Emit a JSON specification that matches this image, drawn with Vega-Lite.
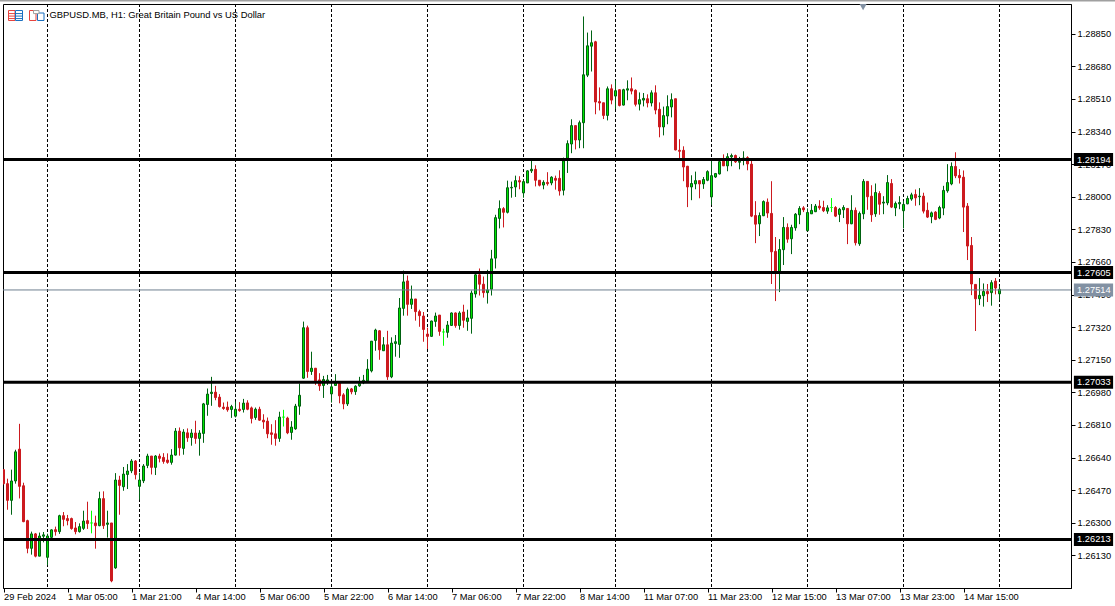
{"$schema":"https://vega.github.io/schema/vega-lite/v6.json","width":1068,"height":584,"autosize":"none","padding":{"left":3,"top":4,"right":44,"bottom":18},"background":"#ffffff","config":{"view":{"stroke":"#000000","strokeWidth":1},"font":"Liberation Sans"},
"datasets":{"days":[{"bar":11},{"bar":34},{"bar":58},{"bar":82},{"bar":106},{"bar":130},{"bar":153},{"bar":177},{"bar":201},{"bar":225},{"bar":249}],
"levels":[{"price":1.28194},{"price":1.27605},{"price":1.27033},{"price":1.26213}],
"last":[{"price":1.27514}],
"iconrows":[{"price":1.28955},{"price":1.28942},{"price":1.28929}],
"candles":[
{"bar":0,"open":1.26577,"high":1.26580,"low":1.26500,"close":1.26504},
{"bar":1,"open":1.26504,"high":1.26530,"low":1.26368,"close":1.26417},
{"bar":2,"open":1.26417,"high":1.26577,"low":1.26342,"close":1.26518},
{"bar":3,"open":1.26518,"high":1.26681,"low":1.26504,"close":1.26670},
{"bar":4,"open":1.26684,"high":1.26816,"low":1.26427,"close":1.26490},
{"bar":5,"open":1.26493,"high":1.26509,"low":1.26303,"close":1.26306},
{"bar":6,"open":1.26311,"high":1.26316,"low":1.26141,"close":1.26167},
{"bar":7,"open":1.26167,"high":1.26254,"low":1.26134,"close":1.26242},
{"bar":8,"open":1.26242,"high":1.26247,"low":1.26120,"close":1.26126},
{"bar":9,"open":1.26126,"high":1.26249,"low":1.26126,"close":1.26231},
{"bar":10,"open":1.26230,"high":1.26252,"low":1.26198,"close":1.26237},
{"bar":11,"open":1.26120,"high":1.26243,"low":1.26079,"close":1.26231},
{"bar":12,"open":1.26224,"high":1.26266,"low":1.26218,"close":1.26263},
{"bar":13,"open":1.26264,"high":1.26280,"low":1.26233,"close":1.26254},
{"bar":14,"open":1.26254,"high":1.26342,"low":1.26242,"close":1.26337},
{"bar":15,"open":1.26337,"high":1.26356,"low":1.26282,"close":1.26318},
{"bar":16,"open":1.26322,"high":1.26341,"low":1.26287,"close":1.26311},
{"bar":17,"open":1.26322,"high":1.26327,"low":1.26264,"close":1.26270},
{"bar":18,"open":1.26273,"high":1.26304,"low":1.26240,"close":1.26254},
{"bar":19,"open":1.26254,"high":1.26297,"low":1.26249,"close":1.26280},
{"bar":20,"open":1.26271,"high":1.26363,"low":1.26263,"close":1.26309},
{"bar":21,"open":1.26311,"high":1.26410,"low":1.26268,"close":1.26296},
{"bar":22,"open":1.26299,"high":1.26363,"low":1.26245,"close":1.26299},
{"bar":23,"open":1.26299,"high":1.26337,"low":1.26165,"close":1.26285},
{"bar":24,"open":1.26285,"high":1.26462,"low":1.26282,"close":1.26426},
{"bar":25,"open":1.26426,"high":1.26464,"low":1.26268,"close":1.26285},
{"bar":26,"open":1.26292,"high":1.26363,"low":1.26223,"close":1.26299},
{"bar":27,"open":1.26299,"high":1.26299,"low":1.25990,"close":1.25997},
{"bar":28,"open":1.26065,"high":1.26559,"low":1.26060,"close":1.26523},
{"bar":29,"open":1.26523,"high":1.26545,"low":1.26342,"close":1.26495},
{"bar":30,"open":1.26488,"high":1.26591,"low":1.26467,"close":1.26554},
{"bar":31,"open":1.26552,"high":1.26606,"low":1.26476,"close":1.26570},
{"bar":32,"open":1.26571,"high":1.26632,"low":1.26559,"close":1.26622},
{"bar":33,"open":1.26622,"high":1.26627,"low":1.26526,"close":1.26551},
{"bar":34,"open":1.26490,"high":1.26561,"low":1.26420,"close":1.26523},
{"bar":35,"open":1.26519,"high":1.26606,"low":1.26507,"close":1.26596},
{"bar":36,"open":1.26599,"high":1.26660,"low":1.26585,"close":1.26648},
{"bar":37,"open":1.26648,"high":1.26648,"low":1.26552,"close":1.26589},
{"bar":38,"open":1.26589,"high":1.26653,"low":1.26549,"close":1.26648},
{"bar":39,"open":1.26648,"high":1.26660,"low":1.26615,"close":1.26636},
{"bar":40,"open":1.26641,"high":1.26663,"low":1.26608,"close":1.26620},
{"bar":41,"open":1.26627,"high":1.26662,"low":1.26608,"close":1.26615},
{"bar":42,"open":1.26615,"high":1.26684,"low":1.26603,"close":1.26653},
{"bar":43,"open":1.26653,"high":1.26794,"low":1.26651,"close":1.26778},
{"bar":44,"open":1.26778,"high":1.26797,"low":1.26650,"close":1.26691},
{"bar":45,"open":1.26688,"high":1.26788,"low":1.26655,"close":1.26773},
{"bar":46,"open":1.26769,"high":1.26792,"low":1.26722,"close":1.26743},
{"bar":47,"open":1.26745,"high":1.26788,"low":1.26702,"close":1.26768},
{"bar":48,"open":1.26768,"high":1.26832,"low":1.26712,"close":1.26740},
{"bar":49,"open":1.26740,"high":1.26783,"low":1.26650,"close":1.26768},
{"bar":50,"open":1.26766,"high":1.26925,"low":1.26717,"close":1.26920},
{"bar":51,"open":1.26917,"high":1.27000,"low":1.26858,"close":1.26971},
{"bar":52,"open":1.26974,"high":1.27061,"low":1.26910,"close":1.26981},
{"bar":53,"open":1.26981,"high":1.27014,"low":1.26939,"close":1.26953},
{"bar":54,"open":1.26955,"high":1.26971,"low":1.26901,"close":1.26906},
{"bar":55,"open":1.26903,"high":1.26927,"low":1.26889,"close":1.26896},
{"bar":56,"open":1.26903,"high":1.26932,"low":1.26879,"close":1.26889},
{"bar":57,"open":1.26891,"high":1.26915,"low":1.26847,"close":1.26906},
{"bar":58,"open":1.26856,"high":1.26932,"low":1.26849,"close":1.26892},
{"bar":59,"open":1.26892,"high":1.26929,"low":1.26879,"close":1.26885},
{"bar":60,"open":1.26891,"high":1.26946,"low":1.26875,"close":1.26924},
{"bar":61,"open":1.26925,"high":1.26939,"low":1.26887,"close":1.26892},
{"bar":62,"open":1.26899,"high":1.26906,"low":1.26818,"close":1.26844},
{"bar":63,"open":1.26849,"high":1.26901,"low":1.26837,"close":1.26892},
{"bar":64,"open":1.26892,"high":1.26905,"low":1.26832,"close":1.26835},
{"bar":65,"open":1.26835,"high":1.26866,"low":1.26790,"close":1.26826},
{"bar":66,"open":1.26830,"high":1.26849,"low":1.26741,"close":1.26764},
{"bar":67,"open":1.26769,"high":1.26814,"low":1.26707,"close":1.26761},
{"bar":68,"open":1.26764,"high":1.26835,"low":1.26702,"close":1.26740},
{"bar":69,"open":1.26740,"high":1.26879,"low":1.26722,"close":1.26851},
{"bar":70,"open":1.26851,"high":1.26889,"low":1.26802,"close":1.26851},
{"bar":71,"open":1.26846,"high":1.26853,"low":1.26762,"close":1.26769},
{"bar":72,"open":1.26771,"high":1.26830,"low":1.26733,"close":1.26799},
{"bar":73,"open":1.26790,"high":1.26920,"low":1.26785,"close":1.26908},
{"bar":74,"open":1.26908,"high":1.27026,"low":1.26863,"close":1.26965},
{"bar":75,"open":1.27054,"high":1.27349,"low":1.27051,"close":1.27317},
{"bar":76,"open":1.27317,"high":1.27328,"low":1.27056,"close":1.27089},
{"bar":77,"open":1.27089,"high":1.27192,"low":1.27071,"close":1.27106},
{"bar":78,"open":1.27106,"high":1.27106,"low":1.27019,"close":1.27040},
{"bar":79,"open":1.27045,"high":1.27080,"low":1.26988,"close":1.27014},
{"bar":80,"open":1.27016,"high":1.27066,"low":1.26951,"close":1.27047},
{"bar":81,"open":1.27033,"high":1.27071,"low":1.27019,"close":1.27045},
{"bar":82,"open":1.26972,"high":1.27040,"low":1.26927,"close":1.27009},
{"bar":83,"open":1.27016,"high":1.27075,"low":1.27014,"close":1.27028},
{"bar":84,"open":1.27028,"high":1.27028,"low":1.26923,"close":1.26962},
{"bar":85,"open":1.26967,"high":1.26976,"low":1.26892,"close":1.26920},
{"bar":86,"open":1.26920,"high":1.27005,"low":1.26909,"close":1.26996},
{"bar":87,"open":1.26998,"high":1.27003,"low":1.26970,"close":1.26983},
{"bar":88,"open":1.26984,"high":1.27017,"low":1.26967,"close":1.27012},
{"bar":89,"open":1.27014,"high":1.27061,"low":1.27009,"close":1.27026},
{"bar":90,"open":1.27030,"high":1.27071,"low":1.27023,"close":1.27043},
{"bar":91,"open":1.27040,"high":1.27153,"low":1.27037,"close":1.27101},
{"bar":92,"open":1.27092,"high":1.27247,"low":1.27084,"close":1.27247},
{"bar":93,"open":1.27251,"high":1.27312,"low":1.27197,"close":1.27305},
{"bar":94,"open":1.27301,"high":1.27305,"low":1.27150,"close":1.27202},
{"bar":95,"open":1.27197,"high":1.27268,"low":1.27197,"close":1.27228},
{"bar":96,"open":1.27228,"high":1.27301,"low":1.27045,"close":1.27061},
{"bar":97,"open":1.27061,"high":1.27267,"low":1.27054,"close":1.27237},
{"bar":98,"open":1.27235,"high":1.27279,"low":1.27166,"close":1.27244},
{"bar":99,"open":1.27230,"high":1.27472,"low":1.27160,"close":1.27420},
{"bar":100,"open":1.27418,"high":1.27615,"low":1.27380,"close":1.27556},
{"bar":101,"open":1.27561,"high":1.27589,"low":1.27380,"close":1.27439},
{"bar":102,"open":1.27439,"high":1.27537,"low":1.27415,"close":1.27467},
{"bar":103,"open":1.27467,"high":1.27467,"low":1.27354,"close":1.27401},
{"bar":104,"open":1.27401,"high":1.27411,"low":1.27322,"close":1.27380},
{"bar":105,"open":1.27378,"high":1.27399,"low":1.27244,"close":1.27308},
{"bar":106,"open":1.27284,"high":1.27317,"low":1.27206,"close":1.27272},
{"bar":107,"open":1.27272,"high":1.27354,"low":1.27270,"close":1.27352},
{"bar":108,"open":1.27350,"high":1.27396,"low":1.27322,"close":1.27378},
{"bar":109,"open":1.27383,"high":1.27383,"low":1.27275,"close":1.27298},
{"bar":110,"open":1.27295,"high":1.27312,"low":1.27223,"close":1.27295},
{"bar":111,"open":1.27293,"high":1.27352,"low":1.27265,"close":1.27331},
{"bar":112,"open":1.27329,"high":1.27397,"low":1.27326,"close":1.27394},
{"bar":113,"open":1.27394,"high":1.27397,"low":1.27317,"close":1.27328},
{"bar":114,"open":1.27329,"high":1.27403,"low":1.27307,"close":1.27394},
{"bar":115,"open":1.27399,"high":1.27437,"low":1.27317,"close":1.27356},
{"bar":116,"open":1.27350,"high":1.27411,"low":1.27301,"close":1.27368},
{"bar":117,"open":1.27366,"high":1.27511,"low":1.27286,"close":1.27498},
{"bar":118,"open":1.27493,"high":1.27605,"low":1.27474,"close":1.27593},
{"bar":119,"open":1.27593,"high":1.27626,"low":1.27485,"close":1.27544},
{"bar":120,"open":1.27544,"high":1.27584,"low":1.27474,"close":1.27500},
{"bar":121,"open":1.27500,"high":1.27619,"low":1.27443,"close":1.27514},
{"bar":122,"open":1.27518,"high":1.27723,"low":1.27485,"close":1.27676},
{"bar":123,"open":1.27680,"high":1.27906,"low":1.27626,"close":1.27891},
{"bar":124,"open":1.27887,"high":1.27981,"low":1.27835,"close":1.27938},
{"bar":125,"open":1.27938,"high":1.27946,"low":1.27840,"close":1.27919},
{"bar":126,"open":1.27919,"high":1.28084,"low":1.27913,"close":1.28047},
{"bar":127,"open":1.28046,"high":1.28079,"low":1.27995,"close":1.28049},
{"bar":128,"open":1.28051,"high":1.28110,"low":1.27999,"close":1.28084},
{"bar":129,"open":1.28084,"high":1.28107,"low":1.28039,"close":1.28077},
{"bar":130,"open":1.28020,"high":1.28091,"low":1.27995,"close":1.28079},
{"bar":131,"open":1.28072,"high":1.28138,"low":1.28072,"close":1.28135},
{"bar":132,"open":1.28135,"high":1.28187,"low":1.28124,"close":1.28143},
{"bar":133,"open":1.28143,"high":1.28164,"low":1.28054,"close":1.28086},
{"bar":134,"open":1.28086,"high":1.28086,"low":1.28054,"close":1.28060},
{"bar":135,"open":1.28061,"high":1.28086,"low":1.28039,"close":1.28075},
{"bar":136,"open":1.28075,"high":1.28128,"low":1.28058,"close":1.28068},
{"bar":137,"open":1.28072,"high":1.28107,"low":1.28060,"close":1.28102},
{"bar":138,"open":1.28096,"high":1.28110,"low":1.28037,"close":1.28086},
{"bar":139,"open":1.28096,"high":1.28138,"low":1.28006,"close":1.28030},
{"bar":140,"open":1.28034,"high":1.28204,"low":1.28007,"close":1.28187},
{"bar":141,"open":1.28201,"high":1.28294,"low":1.28124,"close":1.28277},
{"bar":142,"open":1.28275,"high":1.28404,"low":1.28227,"close":1.28371},
{"bar":143,"open":1.28371,"high":1.28371,"low":1.28247,"close":1.28296},
{"bar":144,"open":1.28296,"high":1.28397,"low":1.28253,"close":1.28386},
{"bar":145,"open":1.28386,"high":1.28940,"low":1.28253,"close":1.28636},
{"bar":146,"open":1.28634,"high":1.28856,"low":1.28624,"close":1.28787},
{"bar":147,"open":1.28785,"high":1.28867,"low":1.28653,"close":1.28803},
{"bar":148,"open":1.28808,"high":1.28813,"low":1.28430,"close":1.28494},
{"bar":149,"open":1.28496,"high":1.28570,"low":1.28450,"close":1.28489},
{"bar":150,"open":1.28490,"high":1.28490,"low":1.28405,"close":1.28424},
{"bar":151,"open":1.28424,"high":1.28575,"low":1.28398,"close":1.28563},
{"bar":152,"open":1.28563,"high":1.28586,"low":1.28482,"close":1.28504},
{"bar":153,"open":1.28525,"high":1.28607,"low":1.28457,"close":1.28553},
{"bar":154,"open":1.28558,"high":1.28560,"low":1.28471,"close":1.28476},
{"bar":155,"open":1.28478,"high":1.28563,"low":1.28476,"close":1.28558},
{"bar":156,"open":1.28556,"high":1.28607,"low":1.28503,"close":1.28563},
{"bar":157,"open":1.28563,"high":1.28622,"low":1.28534,"close":1.28551},
{"bar":158,"open":1.28555,"high":1.28560,"low":1.28471,"close":1.28482},
{"bar":159,"open":1.28483,"high":1.28544,"low":1.28450,"close":1.28506},
{"bar":160,"open":1.28504,"high":1.28541,"low":1.28471,"close":1.28513},
{"bar":161,"open":1.28511,"high":1.28534,"low":1.28466,"close":1.28489},
{"bar":162,"open":1.28489,"high":1.28555,"low":1.28471,"close":1.28542},
{"bar":163,"open":1.28542,"high":1.28581,"low":1.28430,"close":1.28452},
{"bar":164,"open":1.28456,"high":1.28492,"low":1.28310,"close":1.28364},
{"bar":165,"open":1.28364,"high":1.28470,"low":1.28320,"close":1.28423},
{"bar":166,"open":1.28421,"high":1.28529,"low":1.28378,"close":1.28470},
{"bar":167,"open":1.28468,"high":1.28539,"low":1.28414,"close":1.28506},
{"bar":168,"open":1.28511,"high":1.28511,"low":1.28242,"close":1.28244},
{"bar":169,"open":1.28242,"high":1.28300,"low":1.28194,"close":1.28237},
{"bar":170,"open":1.28242,"high":1.28263,"low":1.28081,"close":1.28155},
{"bar":171,"open":1.28159,"high":1.28161,"low":1.27946,"close":1.28051},
{"bar":172,"open":1.28051,"high":1.28112,"low":1.27982,"close":1.28069},
{"bar":173,"open":1.28067,"high":1.28131,"low":1.28039,"close":1.28084},
{"bar":174,"open":1.28084,"high":1.28084,"low":1.27992,"close":1.28067},
{"bar":175,"open":1.28067,"high":1.28103,"low":1.28041,"close":1.28090},
{"bar":176,"open":1.28086,"high":1.28138,"low":1.28081,"close":1.28131},
{"bar":177,"open":1.27999,"high":1.28194,"low":1.27958,"close":1.28110},
{"bar":178,"open":1.28103,"high":1.28124,"low":1.28098,"close":1.28121},
{"bar":179,"open":1.28119,"high":1.28194,"low":1.28116,"close":1.28183},
{"bar":180,"open":1.28194,"high":1.28221,"low":1.28161,"close":1.28161},
{"bar":181,"open":1.28161,"high":1.28227,"low":1.28133,"close":1.28209},
{"bar":182,"open":1.28208,"high":1.28225,"low":1.28159,"close":1.28215},
{"bar":183,"open":1.28215,"high":1.28220,"low":1.28176,"close":1.28182},
{"bar":184,"open":1.28180,"high":1.28208,"low":1.28143,"close":1.28185},
{"bar":185,"open":1.28194,"high":1.28237,"low":1.28164,"close":1.28202},
{"bar":186,"open":1.28204,"high":1.28211,"low":1.28138,"close":1.28171},
{"bar":187,"open":1.28170,"high":1.28187,"low":1.27894,"close":1.27899},
{"bar":188,"open":1.27902,"high":1.27977,"low":1.27758,"close":1.27857},
{"bar":189,"open":1.27859,"high":1.27918,"low":1.27795,"close":1.27902},
{"bar":190,"open":1.27901,"high":1.27981,"low":1.27899,"close":1.27975},
{"bar":191,"open":1.27972,"high":1.27991,"low":1.27890,"close":1.27915},
{"bar":192,"open":1.27913,"high":1.28081,"low":1.27545,"close":1.27713},
{"bar":193,"open":1.27715,"high":1.27790,"low":1.27456,"close":1.27605},
{"bar":194,"open":1.27605,"high":1.27779,"low":1.27503,"close":1.27725},
{"bar":195,"open":1.27724,"high":1.27894,"low":1.27644,"close":1.27840},
{"bar":196,"open":1.27840,"high":1.27861,"low":1.27760,"close":1.27779},
{"bar":197,"open":1.27781,"high":1.27854,"low":1.27701,"close":1.27840},
{"bar":198,"open":1.27838,"high":1.27915,"low":1.27823,"close":1.27909},
{"bar":199,"open":1.27906,"high":1.27951,"low":1.27857,"close":1.27939},
{"bar":200,"open":1.27942,"high":1.27951,"low":1.27920,"close":1.27932},
{"bar":201,"open":1.27823,"high":1.27939,"low":1.27823,"close":1.27918},
{"bar":202,"open":1.27911,"high":1.27962,"low":1.27911,"close":1.27929},
{"bar":203,"open":1.27922,"high":1.27962,"low":1.27920,"close":1.27951},
{"bar":204,"open":1.27951,"high":1.27982,"low":1.27932,"close":1.27942},
{"bar":205,"open":1.27944,"high":1.27979,"low":1.27920,"close":1.27927},
{"bar":206,"open":1.27925,"high":1.27956,"low":1.27911,"close":1.27942},
{"bar":207,"open":1.27944,"high":1.27993,"low":1.27920,"close":1.27944},
{"bar":208,"open":1.27944,"high":1.27951,"low":1.27894,"close":1.27899},
{"bar":209,"open":1.27908,"high":1.27942,"low":1.27868,"close":1.27935},
{"bar":210,"open":1.27932,"high":1.27956,"low":1.27889,"close":1.27944},
{"bar":211,"open":1.27939,"high":1.27941,"low":1.27753,"close":1.27859},
{"bar":212,"open":1.27859,"high":1.28008,"low":1.27857,"close":1.27929},
{"bar":213,"open":1.27929,"high":1.27944,"low":1.27746,"close":1.27760},
{"bar":214,"open":1.27755,"high":1.27923,"low":1.27744,"close":1.27913},
{"bar":215,"open":1.27911,"high":1.28092,"low":1.27883,"close":1.28080},
{"bar":216,"open":1.28080,"high":1.28080,"low":1.27932,"close":1.28000},
{"bar":217,"open":1.28003,"high":1.28060,"low":1.27869,"close":1.27906},
{"bar":218,"open":1.27911,"high":1.28069,"low":1.27895,"close":1.28022},
{"bar":219,"open":1.28017,"high":1.28029,"low":1.27906,"close":1.27961},
{"bar":220,"open":1.27967,"high":1.28003,"low":1.27909,"close":1.27972},
{"bar":221,"open":1.27968,"high":1.28113,"low":1.27956,"close":1.28074},
{"bar":222,"open":1.28069,"high":1.28092,"low":1.27941,"close":1.27946},
{"bar":223,"open":1.27942,"high":1.27975,"low":1.27899,"close":1.27965},
{"bar":224,"open":1.27963,"high":1.28003,"low":1.27935,"close":1.27970},
{"bar":225,"open":1.27927,"high":1.27979,"low":1.27835,"close":1.27960},
{"bar":226,"open":1.27963,"high":1.28005,"low":1.27961,"close":1.27991},
{"bar":227,"open":1.27988,"high":1.28021,"low":1.27979,"close":1.28010},
{"bar":228,"open":1.28012,"high":1.28038,"low":1.27953,"close":1.27994},
{"bar":229,"open":1.28000,"high":1.28045,"low":1.27956,"close":1.28003},
{"bar":230,"open":1.28003,"high":1.28021,"low":1.27913,"close":1.27925},
{"bar":231,"open":1.27929,"high":1.27970,"low":1.27889,"close":1.27894},
{"bar":232,"open":1.27896,"high":1.27923,"low":1.27862,"close":1.27916},
{"bar":233,"open":1.27920,"high":1.27925,"low":1.27878,"close":1.27882},
{"bar":234,"open":1.27889,"high":1.27953,"low":1.27883,"close":1.27944},
{"bar":235,"open":1.27941,"high":1.28057,"low":1.27904,"close":1.28033},
{"bar":236,"open":1.28031,"high":1.28170,"low":1.28021,"close":1.28074},
{"bar":237,"open":1.28067,"high":1.28179,"low":1.28060,"close":1.28158},
{"bar":238,"open":1.28158,"high":1.28232,"low":1.28097,"close":1.28109},
{"bar":239,"open":1.28111,"high":1.28144,"low":1.28069,"close":1.28099},
{"bar":240,"open":1.28102,"high":1.28137,"low":1.27816,"close":1.27946},
{"bar":241,"open":1.27951,"high":1.27967,"low":1.27670,"close":1.27743},
{"bar":242,"open":1.27746,"high":1.27790,"low":1.27487,"close":1.27545},
{"bar":243,"open":1.27543,"high":1.27543,"low":1.27300,"close":1.27468},
{"bar":244,"open":1.27468,"high":1.27576,"low":1.27435,"close":1.27486},
{"bar":245,"open":1.27484,"high":1.27548,"low":1.27427,"close":1.27506},
{"bar":246,"open":1.27506,"high":1.27545,"low":1.27451,"close":1.27494},
{"bar":247,"open":1.27500,"high":1.27565,"low":1.27432,"close":1.27552},
{"bar":248,"open":1.27560,"high":1.27576,"low":1.27491,"close":1.27524},
{"bar":249,"open":1.27494,"high":1.27534,"low":1.27461,"close":1.27517}
]},
"resolve":{"scale":{"x":"shared","y":"shared"}},
"layer":[
{"data":{"name":"days"},"mark":{"type":"rule","color":"#000000","strokeWidth":1,"strokeDash":[3,2]},"encoding":{"x":{"field":"bar","type":"quantitative","title":null,"scale":{"domain":[-0.125,266.875],"nice":false,"zero":false,"padding":0},"axis":{"values":[0,16,32,48,64,80,96,112,128,144,160,176,192,208,224,240],"labelExpr":"['29 Feb 2024','1 Mar 05:00','1 Mar 21:00','4 Mar 14:00','5 Mar 06:00','5 Mar 22:00','6 Mar 14:00','7 Mar 06:00','7 Mar 22:00','8 Mar 14:00','11 Mar 07:00','11 Mar 23:00','12 Mar 15:00','13 Mar 07:00','13 Mar 23:00','14 Mar 15:00'][datum.value/16]","title":null,"grid":false,"orient":"bottom","domainColor":"#000000","tickColor":"#000000","tickSize":4,"tickCount":30,"labelColor":"#000000","labelFont":"Liberation Sans","labelFontSize":9.3,"labelAlign":"left","labelBaseline":"top","labelPadding":0,"labelOverlap":false,"labelFlush":false}}}},
{"data":{"name":"candles"},"mark":{"type":"rule","strokeWidth":1,"clip":true},"encoding":{"x":{"field":"bar","type":"quantitative","title":null,"scale":{"domain":[-0.125,266.875],"nice":false,"zero":false,"padding":0}},"y":{"field":"low","type":"quantitative","title":null,"scale":{"domain":[1.2596,1.29005],"nice":false,"zero":false},"axis":{"orient":"right","title":null,"grid":false,"values":[1.2885,1.2868,1.2851,1.2834,1.2817,1.28,1.2783,1.2766,1.2749,1.2732,1.2715,1.2698,1.2681,1.2664,1.2647,1.263,1.2613],"tickCount":30,"format":".5f","domainColor":"#000000","tickColor":"#000000","tickSize":4,"labelColor":"#000000","labelFont":"Liberation Sans","labelFontSize":9.3,"labelPadding":2,"labelOverlap":false,"labelFlush":false}},"y2":{"field":"high"},"stroke":{"condition":[{"test":"datum.close==datum.open","value":"#00ff00"},{"test":"datum.close>datum.open","value":"#006414"}],"value":"#cc1a1f"}}},
{"data":{"name":"candles"},"mark":{"type":"bar","size":2,"strokeWidth":1,"clip":true},"encoding":{"x":{"field":"bar","type":"quantitative","title":null,"scale":{"domain":[-0.125,266.875],"nice":false,"zero":false,"padding":0}},"y":{"field":"open","type":"quantitative","title":null,"scale":{"domain":[1.2596,1.29005],"nice":false,"zero":false}},"y2":{"field":"close"},"fill":{"condition":[{"test":"datum.close==datum.open","value":"#00ff00"},{"test":"datum.close>datum.open","value":"#00e600"}],"value":"#cc1a1f"},"stroke":{"condition":[{"test":"datum.close==datum.open","value":"#00ff00"},{"test":"datum.close>datum.open","value":"#00600f"}],"value":"#cc1a1f"}}},
{"data":{"name":"last"},"mark":{"type":"rule","color":"#6f7f90","strokeWidth":1},"encoding":{"y":{"field":"price","type":"quantitative","title":null,"scale":{"domain":[1.2596,1.29005],"nice":false,"zero":false}}}},
{"data":{"name":"levels"},"mark":{"type":"rule","color":"#000000","strokeWidth":3},"encoding":{"y":{"field":"price","type":"quantitative","title":null,"scale":{"domain":[1.2596,1.29005],"nice":false,"zero":false}}}},
{"data":{"name":"levels"},"mark":{"type":"rule","color":"#000000","strokeWidth":13},"encoding":{"x":{"datum":267.6,"title":null,"scale":{"domain":[-0.125,266.875],"nice":false,"zero":false,"padding":0}},"x2":{"datum":277.4},"y":{"field":"price","type":"quantitative","title":null,"scale":{"domain":[1.2596,1.29005],"nice":false,"zero":false}}}},
{"data":{"name":"last"},"mark":{"type":"rule","color":"#8291a3","strokeWidth":13},"encoding":{"x":{"datum":267.6,"title":null,"scale":{"domain":[-0.125,266.875],"nice":false,"zero":false,"padding":0}},"x2":{"datum":277.4},"y":{"field":"price","type":"quantitative","title":null,"scale":{"domain":[1.2596,1.29005],"nice":false,"zero":false}}}},
{"data":{"name":"levels"},"mark":{"type":"text","align":"left","baseline":"middle","color":"#ffffff","font":"Liberation Sans","fontSize":9.3},"encoding":{"x":{"datum":268.4,"title":null,"scale":{"domain":[-0.125,266.875],"nice":false,"zero":false,"padding":0}},"y":{"field":"price","type":"quantitative","title":null,"scale":{"domain":[1.2596,1.29005],"nice":false,"zero":false}},"text":{"field":"price","type":"quantitative","format":".5f"}}},
{"data":{"name":"last"},"mark":{"type":"text","align":"left","baseline":"middle","color":"#ffffff","font":"Liberation Sans","fontSize":9.3},"encoding":{"x":{"datum":268.4,"title":null,"scale":{"domain":[-0.125,266.875],"nice":false,"zero":false,"padding":0}},"y":{"field":"price","type":"quantitative","title":null,"scale":{"domain":[1.2596,1.29005],"nice":false,"zero":false}},"text":{"field":"price","type":"quantitative","format":".5f"}}},
{"data":{"values":[{"name":"GBPUSD.MB, H1:  Great Britain Pound vs US Dollar"}]},"mark":{"type":"text","align":"left","baseline":"middle","color":"#000000","font":"Liberation Sans","fontSize":9.4},"encoding":{"x":{"datum":11.5,"title":null,"scale":{"domain":[-0.125,266.875],"nice":false,"zero":false,"padding":0}},"y":{"datum":1.28946,"title":null,"scale":{"domain":[1.2596,1.29005],"nice":false,"zero":false}},"text":{"field":"name"}}},
{"data":{"values":[{"m":"window"}]},"mark":{"type":"rule","color":"#a0a0a0","strokeWidth":2},"encoding":{"x":{"datum":-1,"title":null,"scale":{"domain":[-0.125,266.875],"nice":false,"zero":false,"padding":0}},"x2":{"datum":279},"y":{"datum":1.29023,"title":null,"scale":{"domain":[1.2596,1.29005],"nice":false,"zero":false}}}},
{"data":{"values":[{"m":"marker"}]},"mark":{"type":"point","shape":"triangle-down","filled":true,"color":"#8291a3","size":50,"opacity":1},"encoding":{"x":{"datum":214.9,"title":null,"scale":{"domain":[-0.125,266.875],"nice":false,"zero":false,"padding":0}},"y":{"datum":1.28989,"title":null,"scale":{"domain":[1.2596,1.29005],"nice":false,"zero":false}}}},
{"data":{"values":[{"m":"icon"}]},"mark":{"type":"rect","fill":"#ffffff","stroke":"#e8423c","strokeWidth":1},"encoding":{"x":{"datum":1.25,"title":null,"scale":{"domain":[-0.125,266.875],"nice":false,"zero":false,"padding":0}},"x2":{"datum":2.875},"y":{"datum":1.28971,"title":null,"scale":{"domain":[1.2596,1.29005],"nice":false,"zero":false}},"y2":{"datum":1.28919}}},
{"data":{"values":[{"m":"icon"}]},"mark":{"type":"rect","fill":"#ffffff","stroke":"#1a70c0","strokeWidth":1},"encoding":{"x":{"datum":3,"title":null,"scale":{"domain":[-0.125,266.875],"nice":false,"zero":false,"padding":0}},"x2":{"datum":4.75},"y":{"datum":1.28971,"title":null,"scale":{"domain":[1.2596,1.29005],"nice":false,"zero":false}},"y2":{"datum":1.28919}}},
{"data":{"name":"iconrows"},"mark":{"type":"rule","color":"#e8423c","strokeWidth":1},"encoding":{"x":{"datum":1.25,"title":null,"scale":{"domain":[-0.125,266.875],"nice":false,"zero":false,"padding":0}},"x2":{"datum":2.875},"y":{"field":"price","type":"quantitative","title":null,"scale":{"domain":[1.2596,1.29005],"nice":false,"zero":false}}}},
{"data":{"name":"iconrows"},"mark":{"type":"rule","color":"#1a70c0","strokeWidth":1},"encoding":{"x":{"datum":3,"title":null,"scale":{"domain":[-0.125,266.875],"nice":false,"zero":false,"padding":0}},"x2":{"datum":4.75},"y":{"field":"price","type":"quantitative","title":null,"scale":{"domain":[1.2596,1.29005],"nice":false,"zero":false}}}},
{"data":{"values":[{"m":"icon"}]},"mark":{"type":"rect","fill":"#ffffff","stroke":"#e8423c","strokeWidth":1},"encoding":{"x":{"datum":6.5,"title":null,"scale":{"domain":[-0.125,266.875],"nice":false,"zero":false,"padding":0}},"x2":{"datum":8.125},"y":{"datum":1.28971,"title":null,"scale":{"domain":[1.2596,1.29005],"nice":false,"zero":false}},"y2":{"datum":1.28919}}},
{"data":{"values":[{"m":"icon"}]},"mark":{"type":"rect","fill":"#ffffff","stroke":"#1a70c0","strokeWidth":1},"encoding":{"x":{"datum":8.5,"title":null,"scale":{"domain":[-0.125,266.875],"nice":false,"zero":false,"padding":0}},"x2":{"datum":10.125},"y":{"datum":1.28958,"title":null,"scale":{"domain":[1.2596,1.29005],"nice":false,"zero":false}},"y2":{"datum":1.28919}}},
{"data":{"values":[{"m":"icon"}]},"mark":{"type":"rect","fill":"#ffffff","stroke":"#a0a0a0","strokeWidth":1},"encoding":{"x":{"datum":7.5,"title":null,"scale":{"domain":[-0.125,266.875],"nice":false,"zero":false,"padding":0}},"x2":{"datum":8.875},"y":{"datum":1.28971,"title":null,"scale":{"domain":[1.2596,1.29005],"nice":false,"zero":false}},"y2":{"datum":1.28955}}}
]}
